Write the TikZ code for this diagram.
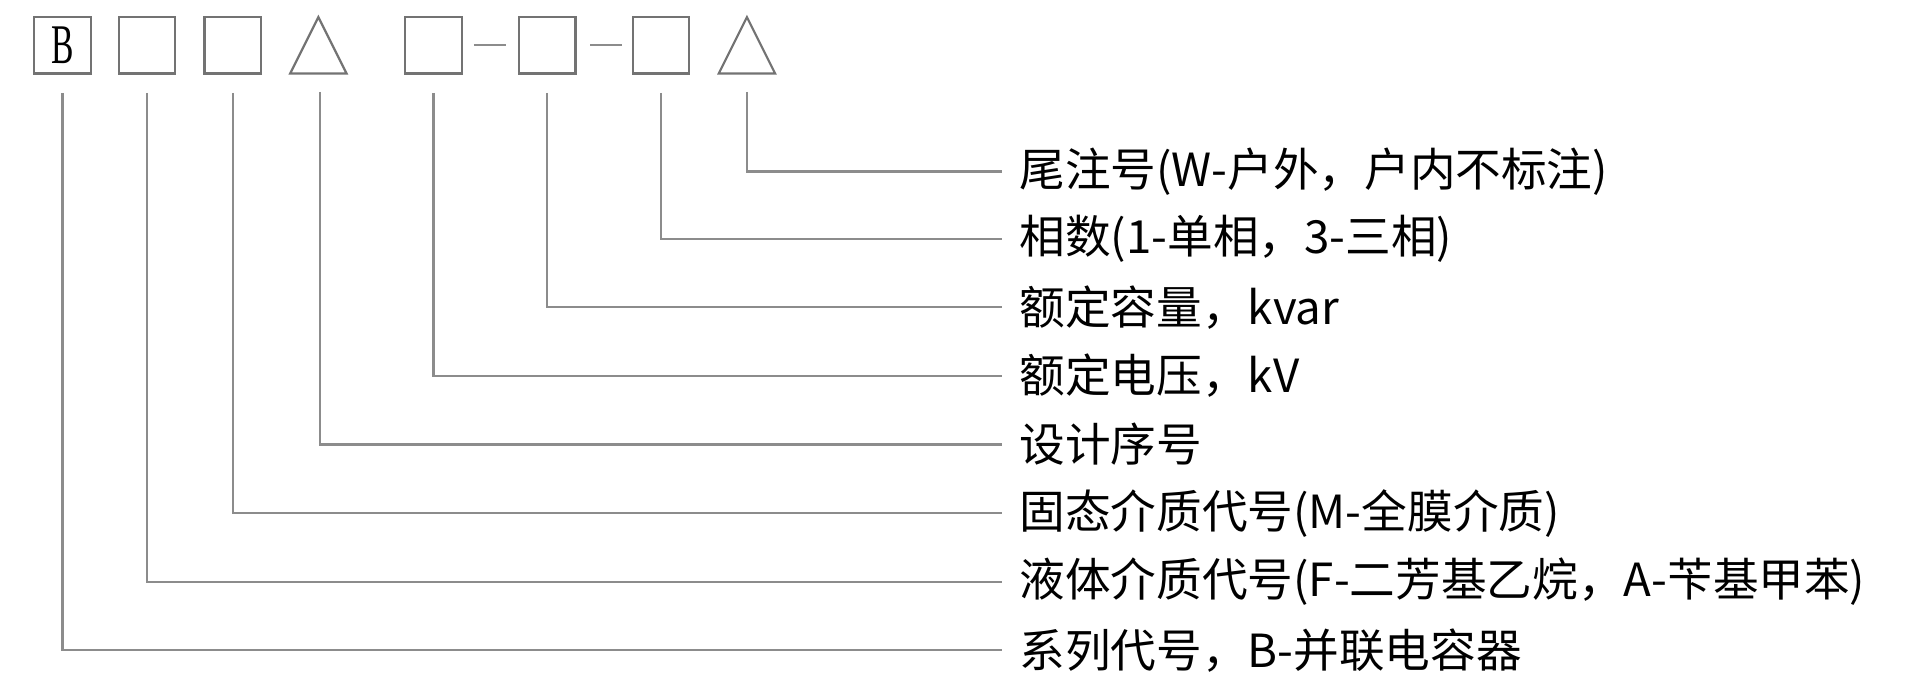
\documentclass[tikz,border=0pt]{standalone}
\usepackage{fontspec}
\setmainfont{Noto Sans CJK SC}
\newfontfamily\codefont{Liberation Serif}
\usetikzlibrary{positioning}
\begin{document}
\begin{tikzpicture}[x=0.01cm,y=-0.01cm]
    \tikzset{code/.style={draw=black!55, minimum width=0.46cm, minimum height=0.46cm, inner sep=0pt, line width=0.5pt},
      tri/.style={draw=black!55, line width=0.5pt},
      lead/.style={draw=black!45, line width=0.5pt},
      desc/.style={anchor=west, inner sep=0pt, font=\fontsize{10.6}{12}\selectfont}}
    \useasboundingbox (0,0) rectangle (1568,570);
    % code boxes
    \node [code] (b1) at (51,37) {\scalebox{0.6}[1]{\codefont\fontsize{13}{13}\selectfont B}};
    \node [code] (b2) at (120,37) {};
    \node [code] (b3) at (190,37) {};
    \node [code] (b5) at (354,37) {};
    \node [code] (b6) at (447,37) {};
    \node [code] (b7) at (540,37) {};
    \draw [tri] (237,60) -- (260,14) -- (283,60) -- cycle;
    \draw [tri] (587,60) -- (610,14) -- (633,60) -- cycle;
    \coordinate (t4) at (261,75);
    \coordinate (t8) at (610,75);
    \draw [lead] (387,37) -- (413,37);
    \draw [lead] (482,37) -- (508,37);
    % descriptions
    \node [desc] (d8) at (832,140) {尾注号(W-户外，户内不标注)};
    \node [desc] (d7) at (832,195) {相数(1-单相，3-三相)};
    \node [desc] (d6) at (832,251) {额定容量，kvar};
    \node [desc] (d5) at (832,307) {额定电压，kV};
    \node [desc] (d4) at (832,363) {设计序号};
    \node [desc] (d3) at (832,419) {固态介质代号(M-全膜介质)};
    \node [desc] (d2) at (832,475) {液体介质代号(F-二芳基乙烷，A-苄基甲苯)};
    \node [desc] (d1) at (832,531) {系列代号，B-并联电容器};
    % leaders
    \draw [lead] (t8) |- ([xshift=-0.14cm]d8.west);
    \draw [lead] ([yshift=-0.15cm]b7.south) |- ([xshift=-0.14cm]d7.west);
    \draw [lead] ([yshift=-0.15cm]b6.south) |- ([xshift=-0.14cm]d6.west);
    \draw [lead] ([yshift=-0.15cm]b5.south) |- ([xshift=-0.14cm]d5.west);
    \draw [lead] (t4) |- ([xshift=-0.14cm]d4.west);
    \draw [lead] ([yshift=-0.15cm]b3.south) |- ([xshift=-0.14cm]d3.west);
    \draw [lead] ([yshift=-0.15cm]b2.south) |- ([xshift=-0.14cm]d2.west);
    \draw [lead] ([yshift=-0.15cm]b1.south) |- ([xshift=-0.14cm]d1.west);
\end{tikzpicture}
\end{document}
